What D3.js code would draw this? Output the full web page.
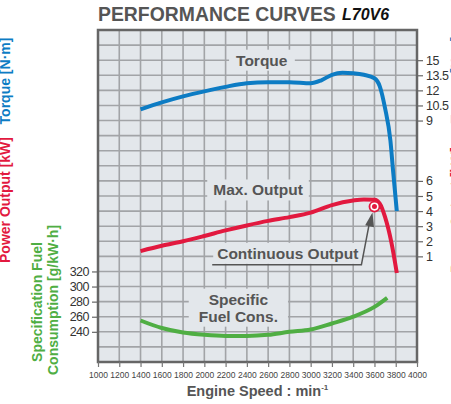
<!doctype html>
<html>
<head>
  <meta charset="utf-8">
  <title>Performance Curves L70V6</title>
  <script src="https://cdn.jsdelivr.net/npm/d3@7"></script>
  <style>
    body { margin: 0; background: #fff; }
    svg { display: block; font-family: "Liberation Sans", Arial, sans-serif; }
  </style>
</head>
<body>
  <div id="chart"></div>

  <script>
    // engine speed axis
    var rpmTicks = [1000, 1200, 1400, 1600, 1800, 2000, 2200, 2400, 2600, 2800, 3000, 3200, 3400, 3600, 3800, 4000];

    // right side ticks
    var torqueTicks = [15, 13.5, 12, 10.5, 9];
    var torqueTickLabels = ['15', '13.5', '12', '10.5', '9'];
    var powerTicks = [6, 5, 4, 3, 2, 1];
    // left side ticks
    var fuelTicks = [320, 300, 280, 260, 240];

    // curves
    var torqueRpm = [1400, 1600, 1800, 2000, 2200, 2400, 2600, 2800, 3000, 3100, 3200, 3300, 3400, 3500, 3600, 3650, 3700, 3750, 3775, 3810];
    var torqueVal = [10.1, 10.8, 11.4, 11.9, 12.35, 12.7, 12.8, 12.8, 12.7, 13.0, 13.55, 13.75, 13.7, 13.55, 13.2, 12.4, 10.2, 7.0, 4.0, 0];

    var powerRpm = [1400, 1600, 1800, 2000, 2200, 2400, 2600, 2800, 3000, 3200, 3400, 3500, 3600, 3650, 3700, 3760, 3810];
    var powerVal = [1.35, 1.7, 2.0, 2.35, 2.72, 3.05, 3.35, 3.6, 3.9, 4.4, 4.7, 4.77, 4.75, 4.5, 3.6, 1.9, -0.1];

    var fuelRpm = [1400, 1600, 1800, 2000, 2200, 2400, 2600, 2800, 3000, 3200, 3400, 3600, 3720];
    var fuelVal = [255, 245, 239, 236, 234.5, 234.5, 236, 240, 243, 251, 260, 273, 285];

    // continuous output point
    var contRpm = 3600;
    var contPower = 4.3;

    var width = 451;
    var height = 404;
    var pLeft = 98, pRight = 417, pTop = 30, pBottom = 362;
    var rows = 22;

    var blue = '#0d7cc4';
    var red = '#e2193f';
    var green = '#4fae43';
    var grey = '#555';
    var plotBg = '#e3e7eb';

    var svg = d3.select('#chart')
      .append('svg')
      .attr('width', width)
      .attr('height', height);

    var x = d3.scaleLinear().domain([1000, 4000]).range([pLeft, pRight]);
    var yRow = d3.scaleLinear().domain([0, rows]).range([pTop, pBottom]);
    var yTorque = d3.scaleLinear().domain([15, 9]).range([yRow(2), yRow(6)]);
    var yPower = d3.scaleLinear().domain([6, 1]).range([yRow(10), yRow(15)]);
    var yFuel = d3.scaleLinear().domain([320, 240]).range([yRow(16), yRow(20)]);

    // title
    svg.append('text')
      .attr('x', pLeft)
      .attr('y', 21)
      .attr('font-size', '19.4px')
      .attr('font-weight', 'bold')
      .attr('fill', grey)
      .text('PERFORMANCE CURVES');
    svg.append('text')
      .attr('x', 342)
      .attr('y', 20)
      .attr('font-size', '16px')
      .attr('font-weight', 'bold')
      .attr('font-style', 'italic')
      .attr('fill', '#111')
      .text('L70V6');

    // plot background
    svg.append('rect')
      .attr('x', pLeft)
      .attr('y', pTop)
      .attr('width', pRight - pLeft)
      .attr('height', pBottom - pTop)
      .attr('fill', plotBg);

    // grid
    var grid = svg.append('g')
      .attr('stroke', '#a2a4a7')
      .attr('stroke-width', 1.6);
    grid.selectAll('line.v')
      .data(rpmTicks.slice(1, -1))
      .enter()
      .append('line')
      .attr('class', 'v')
      .attr('x1', function(d) { return x(d); })
      .attr('x2', function(d) { return x(d); })
      .attr('y1', pTop)
      .attr('y2', pBottom);
    grid.selectAll('line.h')
      .data(d3.range(1, rows))
      .enter()
      .append('line')
      .attr('class', 'h')
      .attr('x1', pLeft)
      .attr('x2', pRight)
      .attr('y1', function(d) { return yRow(d); })
      .attr('y2', function(d) { return yRow(d); });

    // frame
    svg.append('rect')
      .attr('x', pLeft)
      .attr('y', pTop)
      .attr('width', pRight - pLeft)
      .attr('height', pBottom - pTop)
      .attr('fill', 'none')
      .attr('stroke', '#666')
      .attr('stroke-width', 2.5);

    // bottom axis
    var xAxis = svg.append('g')
      .attr('transform', 'translate(0,' + pBottom + ')')
      .call(d3.axisBottom(x).tickValues(rpmTicks).tickSize(5).tickPadding(5).tickFormat(d3.format('d')));
    xAxis.select('.domain').remove();
    xAxis.selectAll('line').attr('stroke', '#777').attr('stroke-width', 1.2);
    xAxis.selectAll('text')
      .attr('font-family', '"Liberation Sans Narrow", "Liberation Sans", Arial, sans-serif')
      .attr('font-size', '8.5px')
      .attr('fill', '#444');

    var xTitle = svg.append('text')
      .attr('x', (x(1000) + x(4000)) / 2)
      .attr('y', 396)
      .attr('text-anchor', 'middle')
      .attr('font-size', '14.5px')
      .attr('font-weight', 'bold')
      .attr('fill', grey);
    xTitle.append('tspan').text('Engine Speed : min');
    xTitle.append('tspan').attr('dy', -6).attr('font-size', '8px').text('-1');

    // right axis: torque and power
    var torqueAxis = svg.append('g')
      .attr('transform', 'translate(' + pRight + ',0)')
      .call(d3.axisRight(yTorque).tickValues(torqueTicks).tickSize(6).tickPadding(3)
        .tickFormat(function(d, i) { return torqueTickLabels[i]; }));
    var powerAxis = svg.append('g')
      .attr('transform', 'translate(' + pRight + ',0)')
      .call(d3.axisRight(yPower).tickValues(powerTicks).tickSize(6).tickPadding(3).tickFormat(d3.format('d')));
    // left axis: fuel
    var fuelAxis = svg.append('g')
      .attr('transform', 'translate(' + pLeft + ',0)')
      .call(d3.axisLeft(yFuel).tickValues(fuelTicks).tickSize(6).tickPadding(3).tickFormat(d3.format('d')));

    [torqueAxis, powerAxis, fuelAxis].forEach(function(a) {
      a.select('.domain').remove();
      a.selectAll('line').attr('stroke', '#666').attr('stroke-width', 1.2);
      a.selectAll('text')
        .attr('font-family', '"Liberation Sans", Arial, sans-serif')
        .attr('font-size', '12.5px')
        .attr('letter-spacing', '-0.5px')
        .attr('fill', '#333');
    });

    // left axis titles (rotated)
    function vLabel(cx, cy, txt, color) {
      svg.append('text')
        .attr('transform', 'translate(' + cx + ',' + cy + ') rotate(-90)')
        .attr('text-anchor', 'middle')
        .attr('font-size', '14px')
        .attr('font-weight', 'bold')
        .attr('fill', color)
        .text(txt);
    }
    vLabel(10, 81, 'Torque [N\u00b7m]', blue);
    vLabel(10, 200, 'Power Output [kW]', red);
    vLabel(42, 302, 'Specification Fuel', green);
    vLabel(58, 300, 'Consumption [g/kW\u00b7h]', green);
    // clipped labels of the neighbouring chart at the right edge
    vLabel(461, 80, 'Torque [N\u00b7m]', blue);
    vLabel(461, 210, 'Power Output [kW]', red);

    // curve labels with boxes that hide the grid
    function boxLabel(rpm, cy, lines, pad) {
      var g = svg.append('g');
      var t = g.append('text')
        .attr('text-anchor', 'middle')
        .attr('font-size', '15.5px')
        .attr('font-weight', 'bold')
        .attr('fill', grey);
      lines.forEach(function(l, i) {
        t.append('tspan')
          .attr('x', x(rpm))
          .attr('y', cy + 5.5 + (i - (lines.length - 1) / 2) * 17)
          .text(l);
      });
      var bb = t.node().getBBox();
      g.insert('rect', 'text')
        .attr('x', bb.x - pad)
        .attr('y', bb.y - 2)
        .attr('width', bb.width + 2 * pad)
        .attr('height', bb.height + 4)
        .attr('fill', plotBg);
      return bb;
    }

    boxLabel(2540, yRow(2), ['Torque'], 7);
    boxLabel(2505, yRow(10.6), ['Max. Output'], 6);
    var cb = boxLabel(2785, yRow(14.8), ['Continuous Output'], 4);
    boxLabel(2320, yRow(18.4), ['Specific', 'Fuel Cons.'], 10);

    // callout line from continuous output label
    var tipX = x(contRpm) - 2;
    var tipY = yPower(contPower) + 6;
    var baseY = cb.y + cb.height + 3;
    var elbowX = cb.x + cb.width + 3;
    svg.append('path')
      .attr('d', 'M' + (cb.x - 5) + ',' + baseY + 'H' + elbowX + 'L' + (tipX - 3) + ',' + (tipY + 10))
      .attr('fill', 'none')
      .attr('stroke', grey)
      .attr('stroke-width', 1.5);
    // arrow head
    var ang = Math.atan2(tipY - baseY, tipX - elbowX);
    var hl = 14, hw = 4.5;
    var bx = tipX - hl * Math.cos(ang), by = tipY - hl * Math.sin(ang);
    svg.append('path')
      .attr('d', 'M' + tipX + ',' + tipY +
        'L' + (bx + hw * Math.sin(ang)) + ',' + (by - hw * Math.cos(ang)) +
        'L' + (bx - hw * Math.sin(ang)) + ',' + (by + hw * Math.cos(ang)) + 'Z')
      .attr('fill', grey);

    // curves
    function curve(xs, ys, yScale, color) {
      var pts = xs.map(function(d, i) { return [d, ys[i]]; });
      var line = d3.line()
        .x(function(d) { return x(d[0]); })
        .y(function(d) { return yScale(d[1]); })
        .curve(d3.curveMonotoneX);
      svg.append('path')
        .datum(pts)
        .attr('d', line)
        .attr('fill', 'none')
        .attr('stroke', color)
        .attr('stroke-width', 4)
        .attr('stroke-linecap', 'butt')
        .attr('stroke-linejoin', 'round');
    }

    curve(torqueRpm, torqueVal, yTorque, blue);
    curve(powerRpm, powerVal, yPower, red);
    curve(fuelRpm, fuelVal, yFuel, green);

    // continuous output marker
    svg.append('circle')
      .attr('cx', x(contRpm))
      .attr('cy', yPower(contPower))
      .attr('r', 5)
      .attr('fill', '#fff')
      .attr('stroke', red)
      .attr('stroke-width', 1.8);
    svg.append('circle')
      .attr('cx', x(contRpm))
      .attr('cy', yPower(contPower))
      .attr('r', 2.5)
      .attr('fill', red);
  </script>
</body>
</html>
